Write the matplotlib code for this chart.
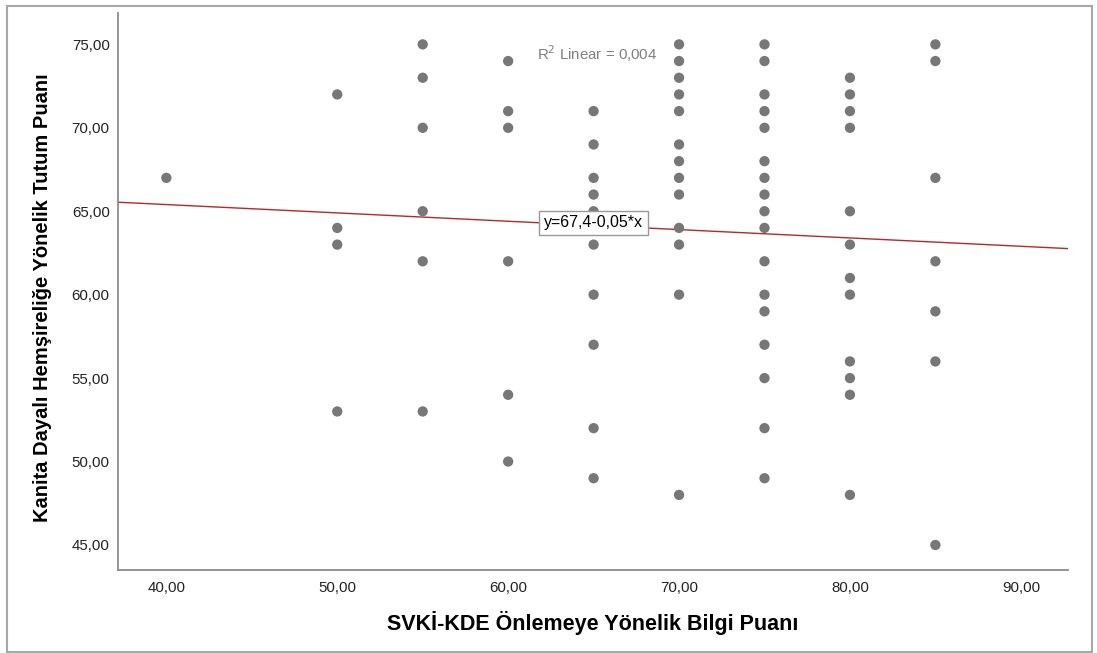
import matplotlib
matplotlib.use("Agg")
import matplotlib.pyplot as plt
from matplotlib.patches import Rectangle
from matplotlib.ticker import FuncFormatter

plt.rcParams['font.family'] = ['Liberation Sans', 'DejaVu Sans']

# attitude scores, grouped by knowledge score
y_at_40 = [67]
y_at_50 = [72, 64, 63, 53]
y_at_55 = [75, 73, 70, 65, 62, 53]
y_at_60 = [74, 71, 70, 62, 54, 50]
y_at_65 = [71, 69, 67, 66, 65, 63, 60, 57, 52, 49]
y_at_70 = [75, 74, 73, 72, 71, 69, 68, 67, 66, 64, 63, 60, 48]
y_at_75 = [75, 74, 72, 71, 70, 68, 67, 66, 65, 64, 62, 60, 59, 57, 55, 52, 49]
y_at_80 = [73, 72, 71, 70, 65, 63, 61, 60, 56, 55, 54, 48]
y_at_85 = [75, 74, 67, 62, 59, 56, 45]

groups = {40: y_at_40, 50: y_at_50, 55: y_at_55, 60: y_at_60, 65: y_at_65,
          70: y_at_70, 75: y_at_75, 80: y_at_80, 85: y_at_85}

# fit line from the chart label
intercept = 67.4
slope = -0.05
r2_text = 'R$^2$ Linear = 0,004'
eq_text = 'y=67,4-0,05*x'

xs = []
ys = []
for k, v in groups.items():
    xs += [k] * len(v)
    ys += v

fig = plt.figure(figsize=(10.97, 6.53), dpi=100)
ax = fig.add_axes([118 / 1097, 1 - 570 / 653, 950 / 1097, 557 / 653])

xmin, xmax = 37.17, 92.76
ax.set_xlim(xmin, xmax)
ax.set_ylim(43.5, 76.88)

ax.scatter(xs, ys, s=55, color='#777777', edgecolors='none', zorder=3)
ax.plot([xmin, xmax], [intercept + slope * xmin, intercept + slope * xmax],
        color='#b5282c', lw=1.0, zorder=2)

ax.text(65, intercept + slope * 65 + 0.15, eq_text, fontsize=11.5, ha='center', va='center',
        zorder=4, bbox=dict(boxstyle='square,pad=0.3', fc='white', ec='#999999', lw=1))
ax.text(61.7, 74.45, r2_text, fontsize=10.8, color='#7f7f7f', ha='left', va='center')

ax.set_xticks([40, 50, 60, 70, 80, 90])
ax.set_yticks([45, 50, 55, 60, 65, 70, 75])
fmt = FuncFormatter(lambda v, p: f'{v:.2f}'.replace('.', ','))
ax.xaxis.set_major_formatter(fmt)
ax.yaxis.set_major_formatter(fmt)
ax.tick_params(length=0, labelsize=10.8, labelcolor='#222222')
ax.tick_params(axis='x', pad=8)
ax.tick_params(axis='y', pad=6)

for s in ['top', 'right']:
    ax.spines[s].set_visible(False)
for s in ['left', 'bottom']:
    ax.spines[s].set_color('#8c8c8c')
    ax.spines[s].set_linewidth(1.3)

ax.set_xlabel('SVKİ-KDE Önlemeye Yönelik Bilgi Puanı', fontsize=15.5, fontweight='bold')
ax.set_ylabel('Kanita Dayalı Hemşireliğe Yönelik Tutum Puanı', fontsize=14.5,
              fontweight='bold')
ax.xaxis.set_label_coords(0.5, -0.095)
ax.yaxis.set_label_coords(-0.079, 0.488)
ax.xaxis.label.set_va('center')
ax.yaxis.label.set_va('center')

fig.patches.append(Rectangle((7 / 1097, 1 - 652 / 653), 1085 / 1097, 646 / 653,
                             transform=fig.transFigure, fill=False,
                             ec='#a8a8a8', lw=1.5))

fig.savefig('out.png', dpi=100)
